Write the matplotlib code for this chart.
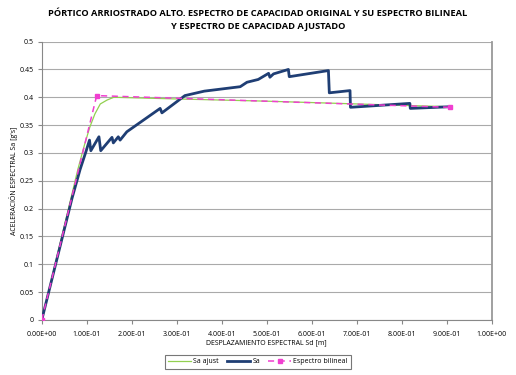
import matplotlib.pyplot as plt
import numpy as np

# Sa (original capacity spectrum)
sd_sa = [0.0, 0.067, 0.085, 0.098, 0.106, 0.109, 0.127, 0.131, 0.156, 0.159, 0.170, 0.174,
         0.189, 0.263, 0.267, 0.318, 0.361, 0.441, 0.456, 0.481, 0.504, 0.507, 0.515,
         0.548, 0.550, 0.637, 0.639, 0.685, 0.686, 0.818, 0.819, 0.907]
sa_sa = [0.0, 0.218, 0.270, 0.302, 0.323, 0.304, 0.329, 0.304, 0.328, 0.318, 0.329, 0.323,
         0.338, 0.380, 0.372, 0.403, 0.411, 0.419, 0.427, 0.432, 0.443, 0.436, 0.442,
         0.450, 0.437, 0.448, 0.408, 0.412, 0.382, 0.389, 0.380, 0.383]

# Sa ajust (adjusted)
sd_aj = [0.0, 0.080, 0.095, 0.107, 0.118, 0.130, 0.145, 0.160, 0.300, 0.500, 0.700, 0.907]
sa_aj = [0.0, 0.270, 0.315, 0.347, 0.370, 0.388, 0.395, 0.400, 0.397, 0.393, 0.388, 0.383]

# Espectro bilineal
sd_bi = [0.0, 0.122, 0.907]
sa_bi = [0.0, 0.403, 0.382]

xticks = np.arange(0, 1.01, 0.1)
yticks = np.arange(0, 0.501, 0.05)

plt.rcParams['font.family'] = ['Open Sans', 'DejaVu Sans']

fig = plt.figure(figsize=(5.16, 3.75), dpi=100)
ax = fig.add_axes([0.081, 0.147, 0.872, 0.742])

ax.plot(sd_aj, sa_aj, color='#92D050', lw=0.9, label='Sa ajust', zorder=3)
ax.plot(sd_sa, sa_sa, color='#1F3E74', lw=2.0, label='Sa', zorder=4)
ax.plot(sd_bi, sa_bi, color='#F03FD0', lw=1.1, ls=(0, (4, 3)), marker='s', ms=3.2,
        label='Espectro bilineal', zorder=5)

ax.set_xlim(0, 1.0)
ax.set_ylim(0, 0.5)
ax.set_xticks(xticks)
ax.set_xticklabels(['%.2E' % v for v in xticks])
ax.set_yticks(yticks)
ax.set_yticklabels(['%g' % round(v, 2) for v in yticks])
ax.tick_params(labelsize=5, length=3, color='#888888', pad=3)
ax.tick_params(axis='x', pad=5)
ax.grid(axis='y', color='#AAAAAA', lw=0.8)
ax.set_axisbelow(True)
for s in ['left', 'bottom']:
    ax.spines[s].set_color('#888888')
ax.spines['top'].set_visible(False)
ax.spines['right'].set_color('#999999')
ax.spines['right'].set_linewidth(1.3)

ax.set_xlabel('DESPLAZAMIENTO ESPECTRAL Sd [m]', fontsize=5, labelpad=1)
ax.set_ylabel("ACELERACIÓN ESPECTRAL Sa [g's]", fontsize=5, labelpad=1)

fig.suptitle('PÓRTICO ARRIOSTRADO ALTO. ESPECTRO DE CAPACIDAD ORIGINAL Y SU ESPECTRO BILINEAL\n'
             'Y ESPECTRO DE CAPACIDAD AJUSTADO',
             fontsize=6.7, fontweight='bold', y=0.975, linespacing=1.45)

leg = fig.legend(loc='center', bbox_to_anchor=(0.5, 0.035), ncol=3, fontsize=5,
                 frameon=True, fancybox=False, edgecolor='#555555', handlelength=3.2,
                 handletextpad=0.4, columnspacing=1.2, borderpad=0.5)
leg.get_frame().set_linewidth(0.8)

fig.savefig('out.png', dpi=100)
